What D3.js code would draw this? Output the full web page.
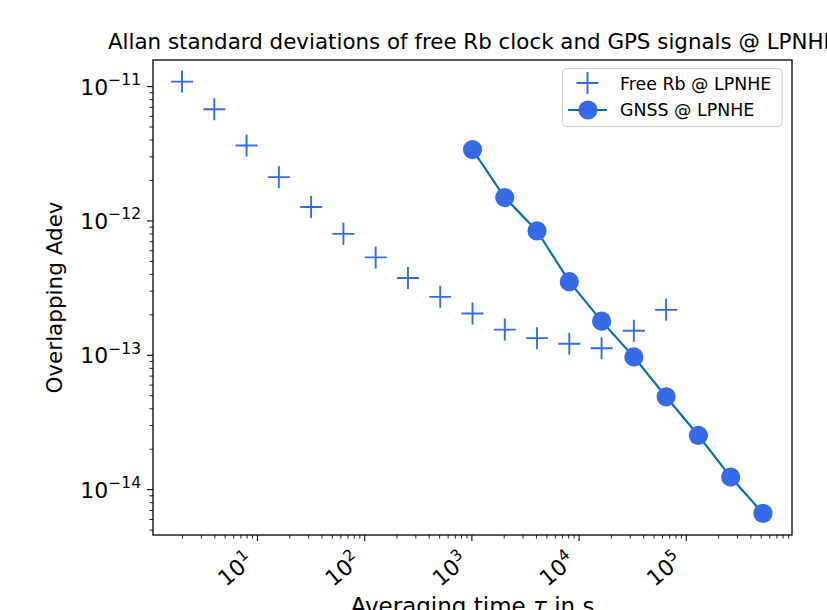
<!DOCTYPE html>
<html>
<head>
<meta charset="utf-8">
<script src="https://cdn.jsdelivr.net/npm/d3@7"></script>
<style>
  body { margin: 0; background: #fff; }
  svg { display: block; font-family: "DejaVu Sans", sans-serif; }
</style>
</head>
<body>
<svg id="chart" width="827" height="610"></svg>
<script>
// averaging times (s), powers of two
var rbTau = [2, 4, 8, 16, 32, 64, 128, 256, 512, 1024, 2048, 4096, 8192, 16384, 32768, 65536];
var rbAdev = [1.08e-11, 6.73e-12, 3.61e-12, 2.10e-12, 1.26e-12, 7.95e-13, 5.31e-13, 3.73e-13,
              2.70e-13, 2.03e-13, 1.54e-13, 1.33e-13, 1.21e-13, 1.12e-13, 1.51e-13, 2.16e-13];

var gnssTau = [1024, 2048, 4096, 8192, 16384, 32768, 65536, 131072, 262144, 524288];
var gnssAdev = [3.37e-12, 1.48e-12, 8.36e-13, 3.50e-13, 1.78e-13, 9.64e-14, 4.87e-14,
                2.51e-14, 1.23e-14, 6.6e-15];

var xMajor = [1e1, 1e2, 1e3, 1e4, 1e5];
var xExp = ['1', '2', '3', '4', '5'];
var yMajor = [1e-11, 1e-12, 1e-13, 1e-14];
var yExp = ['\u221211', '\u221212', '\u221213', '\u221214'];

var titleText = 'Allan standard deviations of free Rb clock and GPS signals @ LPNHE';
var legendLabels = ['Free Rb @ LPNHE', 'GNSS @ LPNHE'];

var markerColor = '#356be6';
var lineColor = '#0a72ab';

var margin = {top: 60, right: 35, bottom: 75, left: 153},
    width = 827 - margin.left - margin.right,
    height = 610 - margin.top - margin.bottom;

// matplotlib style 5% margins in log space
function logLimits(vals) {
  var lo = Math.log10(d3.min(vals)), hi = Math.log10(d3.max(vals));
  var pad = (hi - lo) * 0.05;
  return [Math.pow(10, lo - pad), Math.pow(10, hi + pad)];
}

var x = d3.scaleLog().domain(logLimits(rbTau.concat(gnssTau))).range([0, width]);
var y = d3.scaleLog().domain(logLimits(rbAdev.concat(gnssAdev))).range([height, 0]);

var svg = d3.select('#chart');
var g = svg.append('g').attr('transform', 'translate(' + margin.left + ',' + margin.top + ')');

// minor ticks
var xMinor = x.ticks().filter(function(t) { return xMajor.indexOf(t) < 0; });
var yMinor = y.ticks().filter(function(t) { return yMajor.every(function(m) { return Math.abs(m - t) / m > 1e-6; }); });

g.append('g')
  .attr('transform', 'translate(0,' + height + ')')
  .call(d3.axisBottom(x).tickValues(xMinor).tickSize(3.5).tickFormat(''))
  .call(function(a) { a.select('.domain').remove(); a.selectAll('line').attr('stroke-width', 0.9); });

g.append('g')
  .call(d3.axisLeft(y).tickValues(yMinor).tickSize(3.5).tickFormat(''))
  .call(function(a) { a.select('.domain').remove(); a.selectAll('line').attr('stroke-width', 0.9); });

// major ticks
var xAxis = g.append('g')
  .attr('transform', 'translate(0,' + height + ')')
  .call(d3.axisBottom(x).tickValues(xMajor).tickSize(6).tickFormat(''));
xAxis.select('.domain').remove();
xAxis.selectAll('line').attr('stroke-width', 1.1);

var yAxis = g.append('g')
  .call(d3.axisLeft(y).tickValues(yMajor).tickSize(6).tickFormat(''));
yAxis.select('.domain').remove();
yAxis.selectAll('line').attr('stroke-width', 1.1);

// x tick labels, rotated
xMajor.forEach(function(v, i) {
  var t = g.append('text')
    .attr('transform', 'translate(' + (x(v) - 2) + ',' + (height + 28) + ') rotate(-40)')
    .attr('text-anchor', 'end')
    .attr('font-size', 22)
    .attr('fill', '#000');
  t.append('tspan').text('10');
  t.append('tspan').attr('dy', -9).attr('font-size', 15.5).text(xExp[i]);
});

// y tick labels
yMajor.forEach(function(v, i) {
  var t = g.append('text')
    .attr('x', -12)
    .attr('y', y(v) + 8.5)
    .attr('text-anchor', 'end')
    .attr('font-size', 22)
    .attr('fill', '#000');
  t.append('tspan').text('10');
  t.append('tspan').attr('dy', -9.5).attr('font-size', 15.5).text(yExp[i]);
});

// GNSS line + circles
var line = d3.line()
  .x(function(d, i) { return x(gnssTau[i]); })
  .y(function(d) { return y(d); });

g.append('path')
  .datum(gnssAdev)
  .attr('d', line)
  .attr('fill', 'none')
  .attr('stroke', lineColor)
  .attr('stroke-width', 2.2);

g.selectAll('.gnss')
  .data(gnssAdev)
  .enter().append('circle')
  .attr('class', 'gnss')
  .attr('cx', function(d, i) { return x(gnssTau[i]); })
  .attr('cy', function(d) { return y(d); })
  .attr('r', 9.6)
  .attr('fill', markerColor);

// Rb plus markers
var plus = 'M-11,0H11M0,-11V11';
g.selectAll('.rb')
  .data(rbAdev)
  .enter().append('path')
  .attr('class', 'rb')
  .attr('transform', function(d, i) { return 'translate(' + x(rbTau[i]) + ',' + y(d) + ')'; })
  .attr('d', plus)
  .attr('fill', 'none')
  .attr('stroke', markerColor)
  .attr('stroke-width', 1.9);

// frame
g.append('rect')
  .attr('width', width)
  .attr('height', height)
  .attr('fill', 'none')
  .attr('stroke', '#000')
  .attr('stroke-width', 1.3);

// legend
var leg = g.append('g').attr('transform', 'translate(' + (width - 229.5) + ',8.5)');
leg.append('rect')
  .attr('width', 219.5)
  .attr('height', 58)
  .attr('rx', 4)
  .attr('fill', '#fff')
  .attr('fill-opacity', 0.8)
  .attr('stroke', '#d0d0d0')
  .attr('stroke-width', 1);
leg.append('path')
  .attr('transform', 'translate(25,14.5)')
  .attr('d', plus)
  .attr('fill', 'none')
  .attr('stroke', markerColor)
  .attr('stroke-width', 1.9);
leg.append('line')
  .attr('x1', 5.5).attr('x2', 44.5).attr('y1', 41.5).attr('y2', 41.5)
  .attr('stroke', lineColor).attr('stroke-width', 2.2);
leg.append('circle')
  .attr('cx', 25.5).attr('cy', 41.5).attr('r', 9.6)
  .attr('fill', markerColor);
leg.selectAll('.lt')
  .data(legendLabels)
  .enter().append('text')
  .attr('x', 57.5)
  .attr('y', function(d, i) { return 21 + i * 26.7; })
  .attr('font-size', 17.4)
  .attr('fill', '#000')
  .text(function(d) { return d; });

// title and axis labels
svg.append('text')
  .attr('x', margin.left + width / 2)
  .attr('y', 49)
  .attr('text-anchor', 'middle')
  .attr('font-size', 21.4)
  .attr('fill', '#000')
  .text(titleText);

svg.append('text')
  .attr('transform', 'translate(62,' + (margin.top + height / 2) + ') rotate(-90)')
  .attr('text-anchor', 'middle')
  .attr('font-size', 21.5)
  .attr('fill', '#000')
  .text('Overlapping Adev');

var xl = svg.append('text')
  .attr('x', margin.left + width / 2)
  .attr('y', 614)
  .attr('text-anchor', 'middle')
  .attr('font-size', 23)
  .attr('fill', '#000');
xl.append('tspan').text('Averaging time ');
xl.append('tspan').attr('font-style', 'italic').text('\u03c4');
xl.append('tspan').text(' in s');
</script>
</body>
</html>
